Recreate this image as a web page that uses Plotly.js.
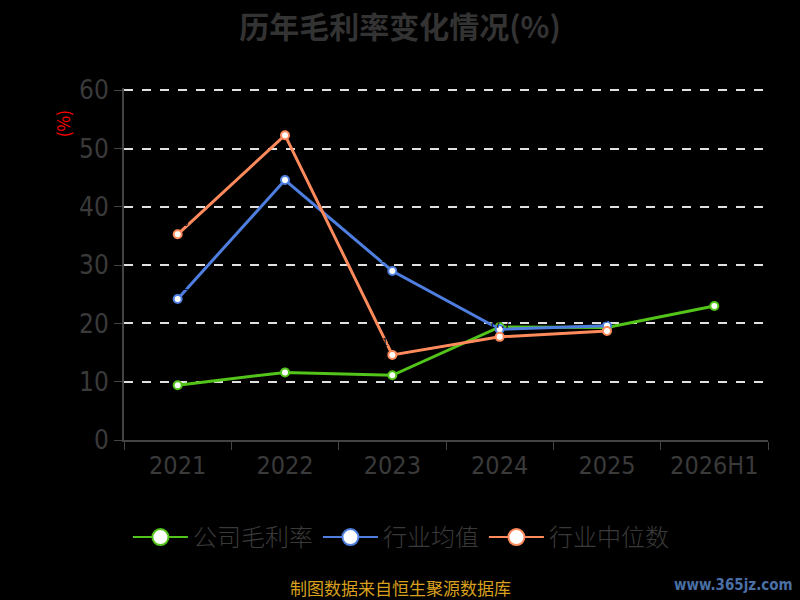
<!DOCTYPE html>
<html>
<head>
<meta charset="utf-8">
<script src="https://cdn.plot.ly/plotly-3.0.1.min.js"></script>
<style>
  body { margin: 0; background: #000; }
  #chart { width: 800px; height: 600px; }
</style>
</head>
<body>
<div id="chart"></div>
<script>
let years = ['2021', '2022', '2023', '2024', '2025', '2026H1'];
let companyRate = [9.4, 11.6, 11.1, 19.4, 19.3, 23.0];
let industryAvg = [24.2, 44.6, 29.0, 19.0, 19.6, null];
let industryMedian = [35.3, 52.3, 14.6, 17.7, 18.7, null];

let seriesNames = ['公司毛利率', '行业均值', '行业中位数'];
let seriesColors = ['#52c41a', '#4e7fe0', '#ff8a5c'];

let font = 'Noto Sans CJK SC, sans-serif';
let tickFont = 'Liberation Sans Narrow, DejaVu Sans Condensed, sans-serif';

// 折線本體（不進圖例）
function makeTrace(name, values, color) {
    return {
        type: 'scatter',
        mode: 'lines+markers+text',
        name: name,
        x: years,
        y: values,
        text: values.map(v => v == null ? '' : v.toFixed(1)),
        textposition: 'top center',
        textfont: { color: '#000', size: 11, family: font },
        line: { color: color, width: 3 },
        marker: { size: 8, color: '#fff', line: { color: color, width: 2 } },
        cliponaxis: false,
        showlegend: false,
        hoverinfo: 'x+y'
    };
}

// 圖例用的空 trace，讓圖例圓點大一點
function makeLegendTrace(name, color) {
    return {
        type: 'scatter',
        mode: 'lines+markers',
        name: name,
        x: [null],
        y: [null],
        line: { color: color, width: 2 },
        marker: { size: 20, color: '#fff', line: { color: color, width: 2 } },
        showlegend: true
    };
}

let data = [
    makeTrace(seriesNames[0], companyRate, seriesColors[0]),
    makeTrace(seriesNames[1], industryAvg, seriesColors[1]),
    makeTrace(seriesNames[2], industryMedian, seriesColors[2])
];
for (let i = 0; i < seriesNames.length; i++) {
    data.push(makeLegendTrace(seriesNames[i], seriesColors[i]));
}

let layout = {
    width: 800,
    height: 600,
    paper_bgcolor: '#000',
    plot_bgcolor: '#000',
    font: { family: font, color: '#3a3a3a' },
    margin: { l: 124, r: 32, t: 88, b: 160 },
    title: {
        text: '<b>历年毛利率变化情况(%)</b>',
        font: { size: 30, color: '#333', family: font },
        x: 0.5,
        xanchor: 'center',
        y: 0.955,
        yanchor: 'middle'
    },
    xaxis: {
        type: 'category',
        range: [-0.5, 5.5],
        tickson: 'boundaries',
        ticks: 'outside',
        ticklen: 8,
        tickcolor: '#444',
        showline: true,
        linecolor: '#444',
        linewidth: 2,
        showgrid: false,
        ticklabelstandoff: 2,
        tickfont: { size: 25, color: '#3a3a3a', family: tickFont }
    },
    yaxis: {
        range: [0, 60.4],
        tickvals: [0, 10, 20, 30, 40, 50, 60],
        ticks: 'outside',
        ticklen: 8,
        tickcolor: '#444',
        showline: true,
        linecolor: '#444',
        linewidth: 2,
        gridcolor: '#e0e0e0',
        griddash: 'dash',
        gridwidth: 1.5,
        zeroline: false,
        tickfont: { size: 26, color: '#3a3a3a', family: tickFont }
    },
    showlegend: true,
    legend: {
        orientation: 'h',
        x: 0.43,
        xanchor: 'center',
        y: -0.277,
        yanchor: 'middle',
        font: { size: 24, color: '#3a3a3a', family: font, weight: 300 },
        itemwidth: 55,
        bgcolor: 'rgba(0,0,0,0)'
    },
    annotations: [
        {
            xref: 'paper', yref: 'paper',
            x: -0.0963, y: 0.9,
            xanchor: 'center', yanchor: 'middle',
            text: '(%)',
            textangle: -90,
            showarrow: false,
            font: { size: 17, color: '#ff0000', family: font }
        },
        {
            xref: 'paper', yref: 'paper',
            x: 0.4286, y: -0.418,
            xanchor: 'center', yanchor: 'middle',
            text: '制图数据来自恒生聚源数据库',
            showarrow: false,
            font: { size: 17, color: '#d9a01e', family: font }
        },
        {
            xref: 'paper', yref: 'paper',
            x: 1.042, y: -0.412,
            xanchor: 'right', yanchor: 'middle',
            text: '<b>www.365jz.com</b>',
            showarrow: false,
            font: { size: 15, color: '#4a6fa5', family: 'DejaVu Sans Condensed, sans-serif' }
        }
    ]
};

Plotly.newPlot('chart', data, layout, { displayModeBar: false });
</script>
</body>
</html>
